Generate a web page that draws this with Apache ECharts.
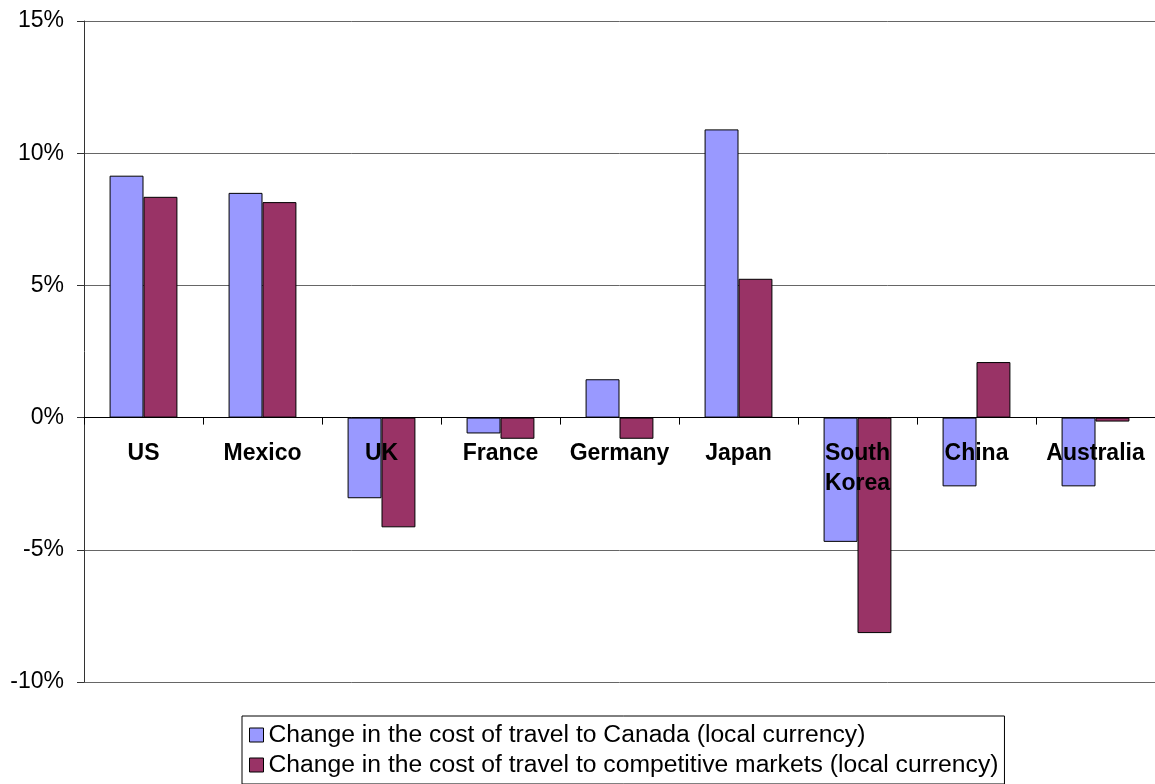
<!DOCTYPE html>
<html>
<head>
    <meta charset="utf-8">
    <title>Cost of travel</title>
    <script src="https://cdn.jsdelivr.net/npm/echarts@6.0.0/dist/echarts.min.js"></script>
    <style>
        html, body { margin: 0; padding: 0; background: #fff; }
        #main { width: 1155px; height: 784px; }
    </style>
</head>
<body>
<div id="main"></div>
<script>
  // countries (x axis)
  var countries = ['US', 'Mexico', 'UK', 'France', 'Germany', 'Japan', 'South\nKorea', 'China', 'Australia'];
  // change in cost of travel to Canada, %
  var canada = [9.15, 8.5, -3.05, -0.6, 1.45, 10.9, -4.7, -2.6, -2.6];
  // change in cost of travel to competitive markets, %
  var competitive = [8.35, 8.15, -4.15, -0.8, -0.8, 5.25, -8.15, 2.1, -0.15];
  var seriesNames = [
      'Change in the cost of travel to Canada (local currency)',
      'Change in the cost of travel to competitive markets (local currency)'
  ];

  var plotTop = 21, plotHeight = 661;
  var yMin = -10, yMax = 15;
  // shift the category axis up to the 0% line
  var zeroOffset = -plotHeight * (0 - yMin) / (yMax - yMin);

  var myChart = echarts.init(document.getElementById('main'));
  myChart.setOption({
      animation: false,
      textStyle: { fontFamily: 'Arial, "Liberation Sans", sans-serif' },
      grid: { left: 84, top: plotTop, width: 1080, height: plotHeight },
      legend: {
          orient: 'vertical',
          left: 242,
          top: 716,
          height: 200,
          padding: [6, 6, 6, 7],
          itemGap: 4,
          itemWidth: 14,
          itemHeight: 14,
          borderColor: '#000',
          borderWidth: 1,
          icon: 'rect',
          itemStyle: { borderColor: '#000', borderWidth: 1 },
          textStyle: { fontSize: 24.7, lineHeight: 26, color: '#000' },
          data: seriesNames
      },
      xAxis: {
          type: 'category',
          data: countries,
          offset: zeroOffset,
          axisLine: { onZero: false, lineStyle: { color: '#000' } },
          axisTick: { show: true, length: 7, lineStyle: { color: '#000' } },
          axisLabel: {
              interval: 0,
              margin: 21,
              fontSize: 23,
              fontWeight: 'bold',
              color: '#000',
              lineHeight: 30,
              verticalAlign: 'top'
          },
          z: 5
      },
      yAxis: {
          type: 'value',
          min: yMin,
          max: yMax,
          interval: 5,
          axisLine: { show: true, lineStyle: { color: '#333' } },
          axisTick: { show: true, length: 7, lineStyle: { color: '#333' } },
          axisLabel: {
              fontSize: 23,
              color: '#000',
              margin: 20,
              formatter: '{value}%'
          },
          splitLine: { lineStyle: { color: '#666', width: 1 } }
      },
      series: [
          {
              name: seriesNames[0],
              type: 'bar',
              data: canada,
              barGap: '0%',
              barCategoryGap: '43%',
              itemStyle: { color: '#9999FF', borderColor: '#000', borderWidth: 1 }
          },
          {
              name: seriesNames[1],
              type: 'bar',
              data: competitive,
              itemStyle: { color: '#993366', borderColor: '#000', borderWidth: 1 }
          }
      ]
  });
</script>
</body>
</html>
